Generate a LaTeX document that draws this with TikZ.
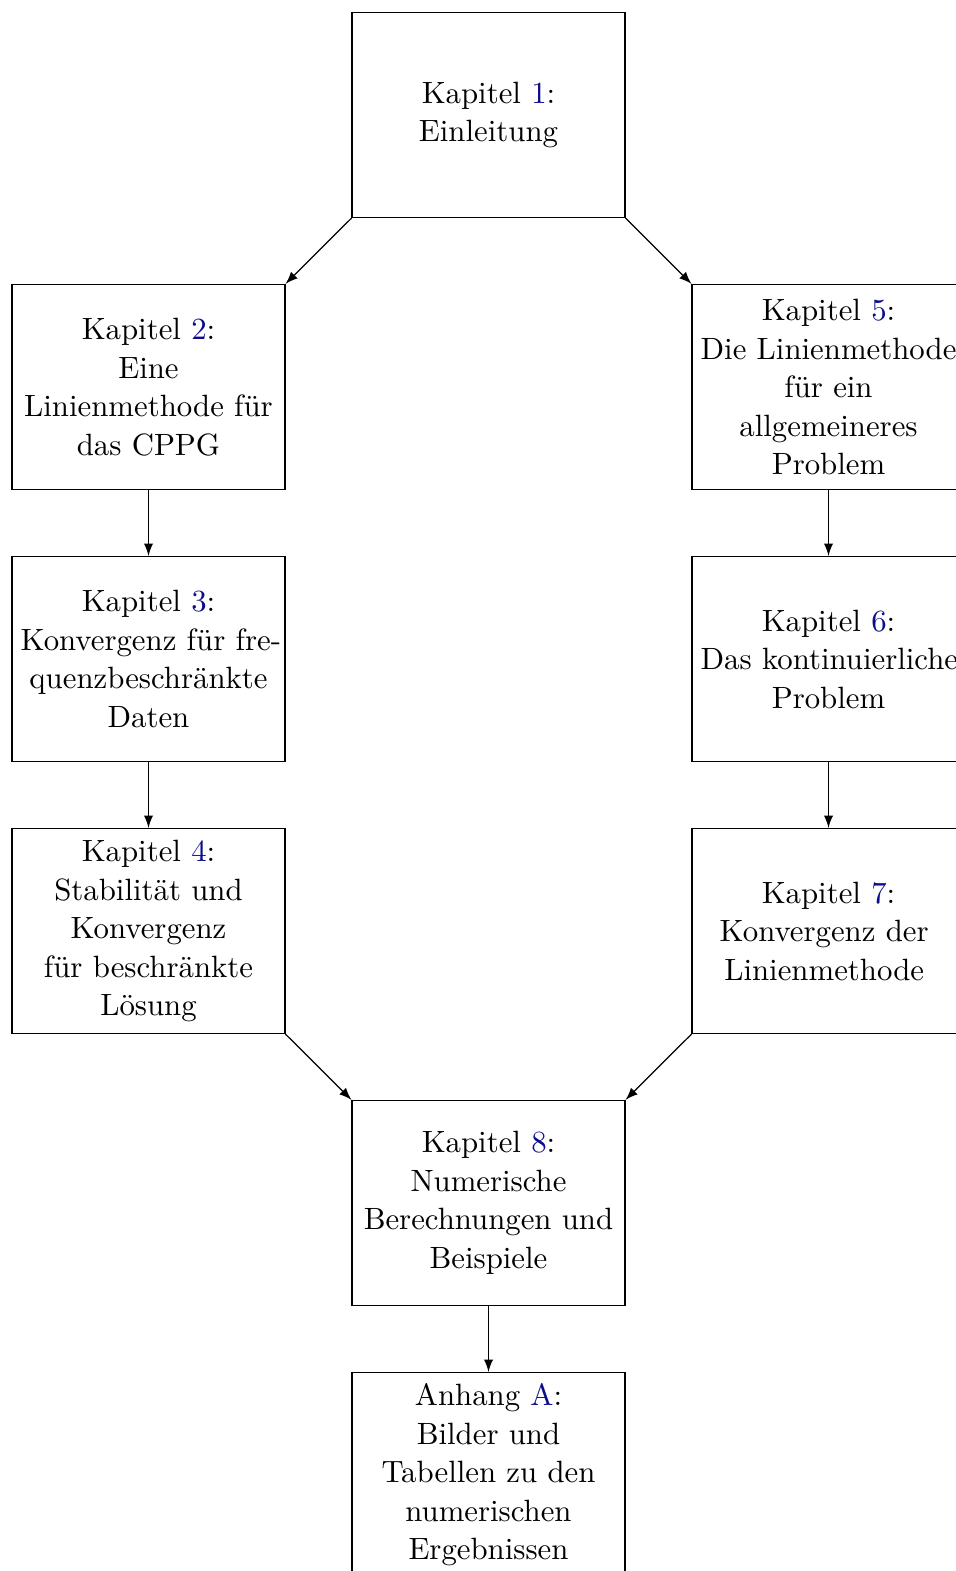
\documentclass[tikz,border=0pt]{standalone}
\usetikzlibrary{arrows}
\definecolor{linkblue}{rgb}{0.05,0.05,0.55}
\newcommand{\chapnr}[1]{\textcolor{linkblue}{#1}}
\hyphenpenalty=10000
\exhyphenpenalty=10000
\begin{document}
\begin{tikzpicture}[x=0.3247pt,y=-0.3247pt,
  chap/.style={draw, rectangle, line width=0.4pt, minimum width=88.6pt, minimum height=66.6pt,
    text width=83pt, inner sep=2.8pt, align=center, font=\fontsize{10}{12.5}\selectfont},
  conn/.style={-latex, line width=0.4pt}]
\useasboundingbox (0,0) rectangle (956,1571);
\node[chap] (n1) at (488.5,115) {Kapitel \chapnr{1}:\\Einleitung};
\node[chap] (n2) at (148.5,387) {Kapitel \chapnr{2}:\\Eine\\Linienmethode~für\\das CPPG};
\node[chap] (n3) at (148.5,659) {Kapitel \chapnr{3}:\\Konvergenz~für~fre-\\quenzbeschränkte\\Daten};
\node[chap] (n4) at (148.5,931) {Kapitel \chapnr{4}:\\Stabilität und\\Konvergenz\\für beschränkte\\Lösung};
\node[chap] (n5) at (828.5,387) {Kapitel \chapnr{5}:\\Die~Linienmethode\\für ein\\allgemeineres\\Problem};
\node[chap] (n6) at (828.5,659) {Kapitel \chapnr{6}:\\Das~kontinuierliche\\Problem};
\node[chap] (n7) at (828.5,931) {Kapitel \chapnr{7}:\\Konvergenz~der\kern2.8pt\\Linienmethode\kern2.8pt};
\node[chap] (n8) at (488.5,1203) {Kapitel \chapnr{8}:\\Numerische\\Berechnungen~und\\Beispiele};
\node[chap] (nA) at (488.5,1475) {Anhang \chapnr{A}:\\Bilder und\\Tabellen~zu~den\\numerischen\\Ergebnissen};
\draw[conn] (n1.south west) -- (n2.north east);
\draw[conn] (n1.south east) -- (n5.north west);
\draw[conn] (n2.south) -- (n3.north);
\draw[conn] (n3.south) -- (n4.north);
\draw[conn] (n5.south) -- (n6.north);
\draw[conn] (n6.south) -- (n7.north);
\draw[conn] (n4.south east) -- (n8.north west);
\draw[conn] (n7.south west) -- (n8.north east);
\draw[conn] (n8.south) -- (nA.north);
\end{tikzpicture}
\end{document}
